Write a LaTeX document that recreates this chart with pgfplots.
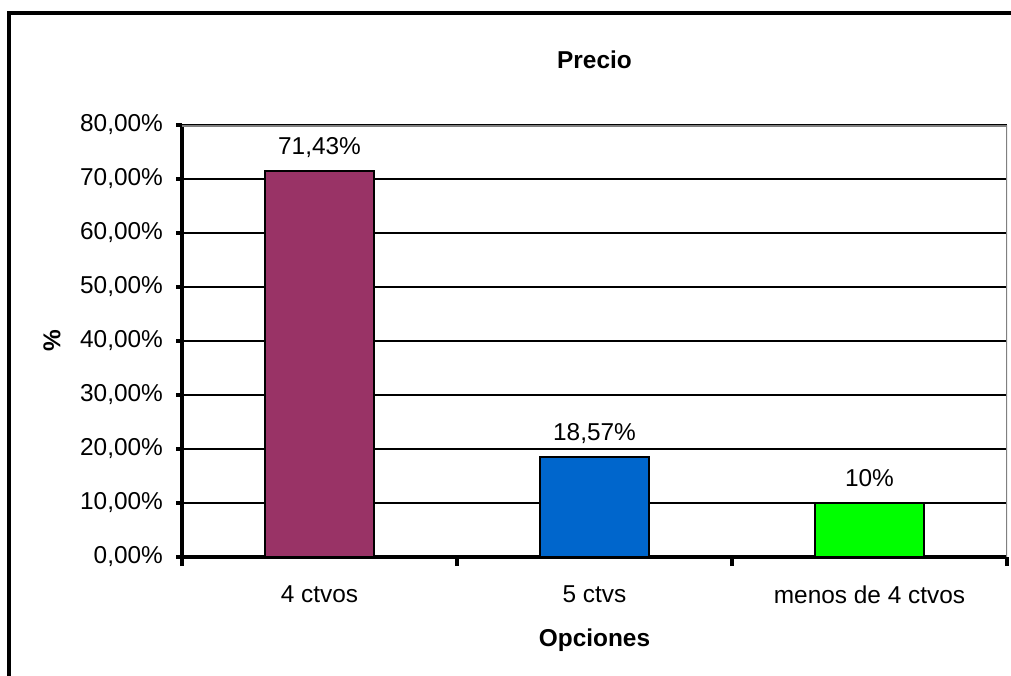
\documentclass[border=0pt]{standalone}
\usepackage{pgfplots}
\pgfplotsset{compat=1.18}
\usepackage{fontspec}
\setmainfont{Liberation Sans}
\definecolor{plum}{HTML}{993366}
\definecolor{bblue}{HTML}{0066CC}
\definecolor{bgreen}{HTML}{00FF00}
\begin{document}
\begin{tikzpicture}
\clip (0,0) rectangle (505.5pt,337.5pt);
\fill[white] (0,0) rectangle (505.5pt,337.5pt);
\draw[line width=2pt] (4.35pt,-20pt) -- (4.35pt,331pt) -- (530pt,331pt);
\begin{axis}[
  at={(91pt,59pt)}, anchor=south west,
  scale only axis, width=412.5pt, height=216pt,
  xmin=0.5, xmax=3.5, ymin=0, ymax=80,
  axis x line*=bottom, axis y line*=left,
  x axis line style={line width=2pt, black},
  y axis line style={line width=2pt, black},
  xtick={1,2,3},
  xticklabels={4 ctvos,5 ctvs,menos de 4 ctvos},
  major x tick style={draw=none},
  extra x ticks={0.5,1.5,2.5,3.5},
  extra x tick labels={},
  extra x tick style={major x tick style={draw=black,line width=2pt}, major tick length=4.5pt, xtick align=outside},
  ytick={0,10,...,80},
  yticklabels={{0,00\%},{10,00\%},{20,00\%},{30,00\%},{40,00\%},{50,00\%},{60,00\%},{70,00\%},{80,00\%}},
  ytick align=outside,
  major tick length=3pt,
  major y tick style={line width=2pt, black},
  ymajorgrids,
  major grid style={black, line width=1pt},
  every tick label/.append style={font=\fontsize{12.2}{14}\selectfont},
  xticklabel style={yshift=-11pt},
  yticklabel style={xshift=-3pt},
  title={Precio},
  title style={font=\bfseries\fontsize{12.2}{14}\selectfont, at={(axis description cs:0.5,1.1458)}, anchor=center, yshift=-5pt},
  xlabel={Opciones},
  xlabel style={font=\bfseries\fontsize{12.2}{14}\selectfont, at={(axis description cs:0.5,-0.1921)}, anchor=center},
  ylabel={\%},
  ylabel style={font=\bfseries\fontsize{12.2}{14}\selectfont, at={(axis description cs:-0.1576,0.5)}, anchor=center},
  nodes near coords={\pgfplotspointmeta},
  point meta=explicit symbolic,
  every node near coord/.append style={font=\fontsize{12.2}{14}\selectfont, anchor=base, yshift=8.2pt, text=black},
]
\addplot[ybar, bar shift=0pt, bar width=54.5pt, fill=plum, draw=black, line width=1pt] coordinates {(1,71.43) [71,43\%]};
\addplot[ybar, bar shift=0pt, bar width=54.5pt, fill=bblue, draw=black, line width=1pt] coordinates {(2,18.57) [18,57\%]};
\addplot[ybar, bar shift=0pt, bar width=54.5pt, fill=bgreen, draw=black, line width=1pt] coordinates {(3,10) [10\%]};
\draw[gray, line width=1.5pt] (rel axis cs:0,1) -- (rel axis cs:1,1) -- (rel axis cs:1,0);
\end{axis}
\end{tikzpicture}
\end{document}
